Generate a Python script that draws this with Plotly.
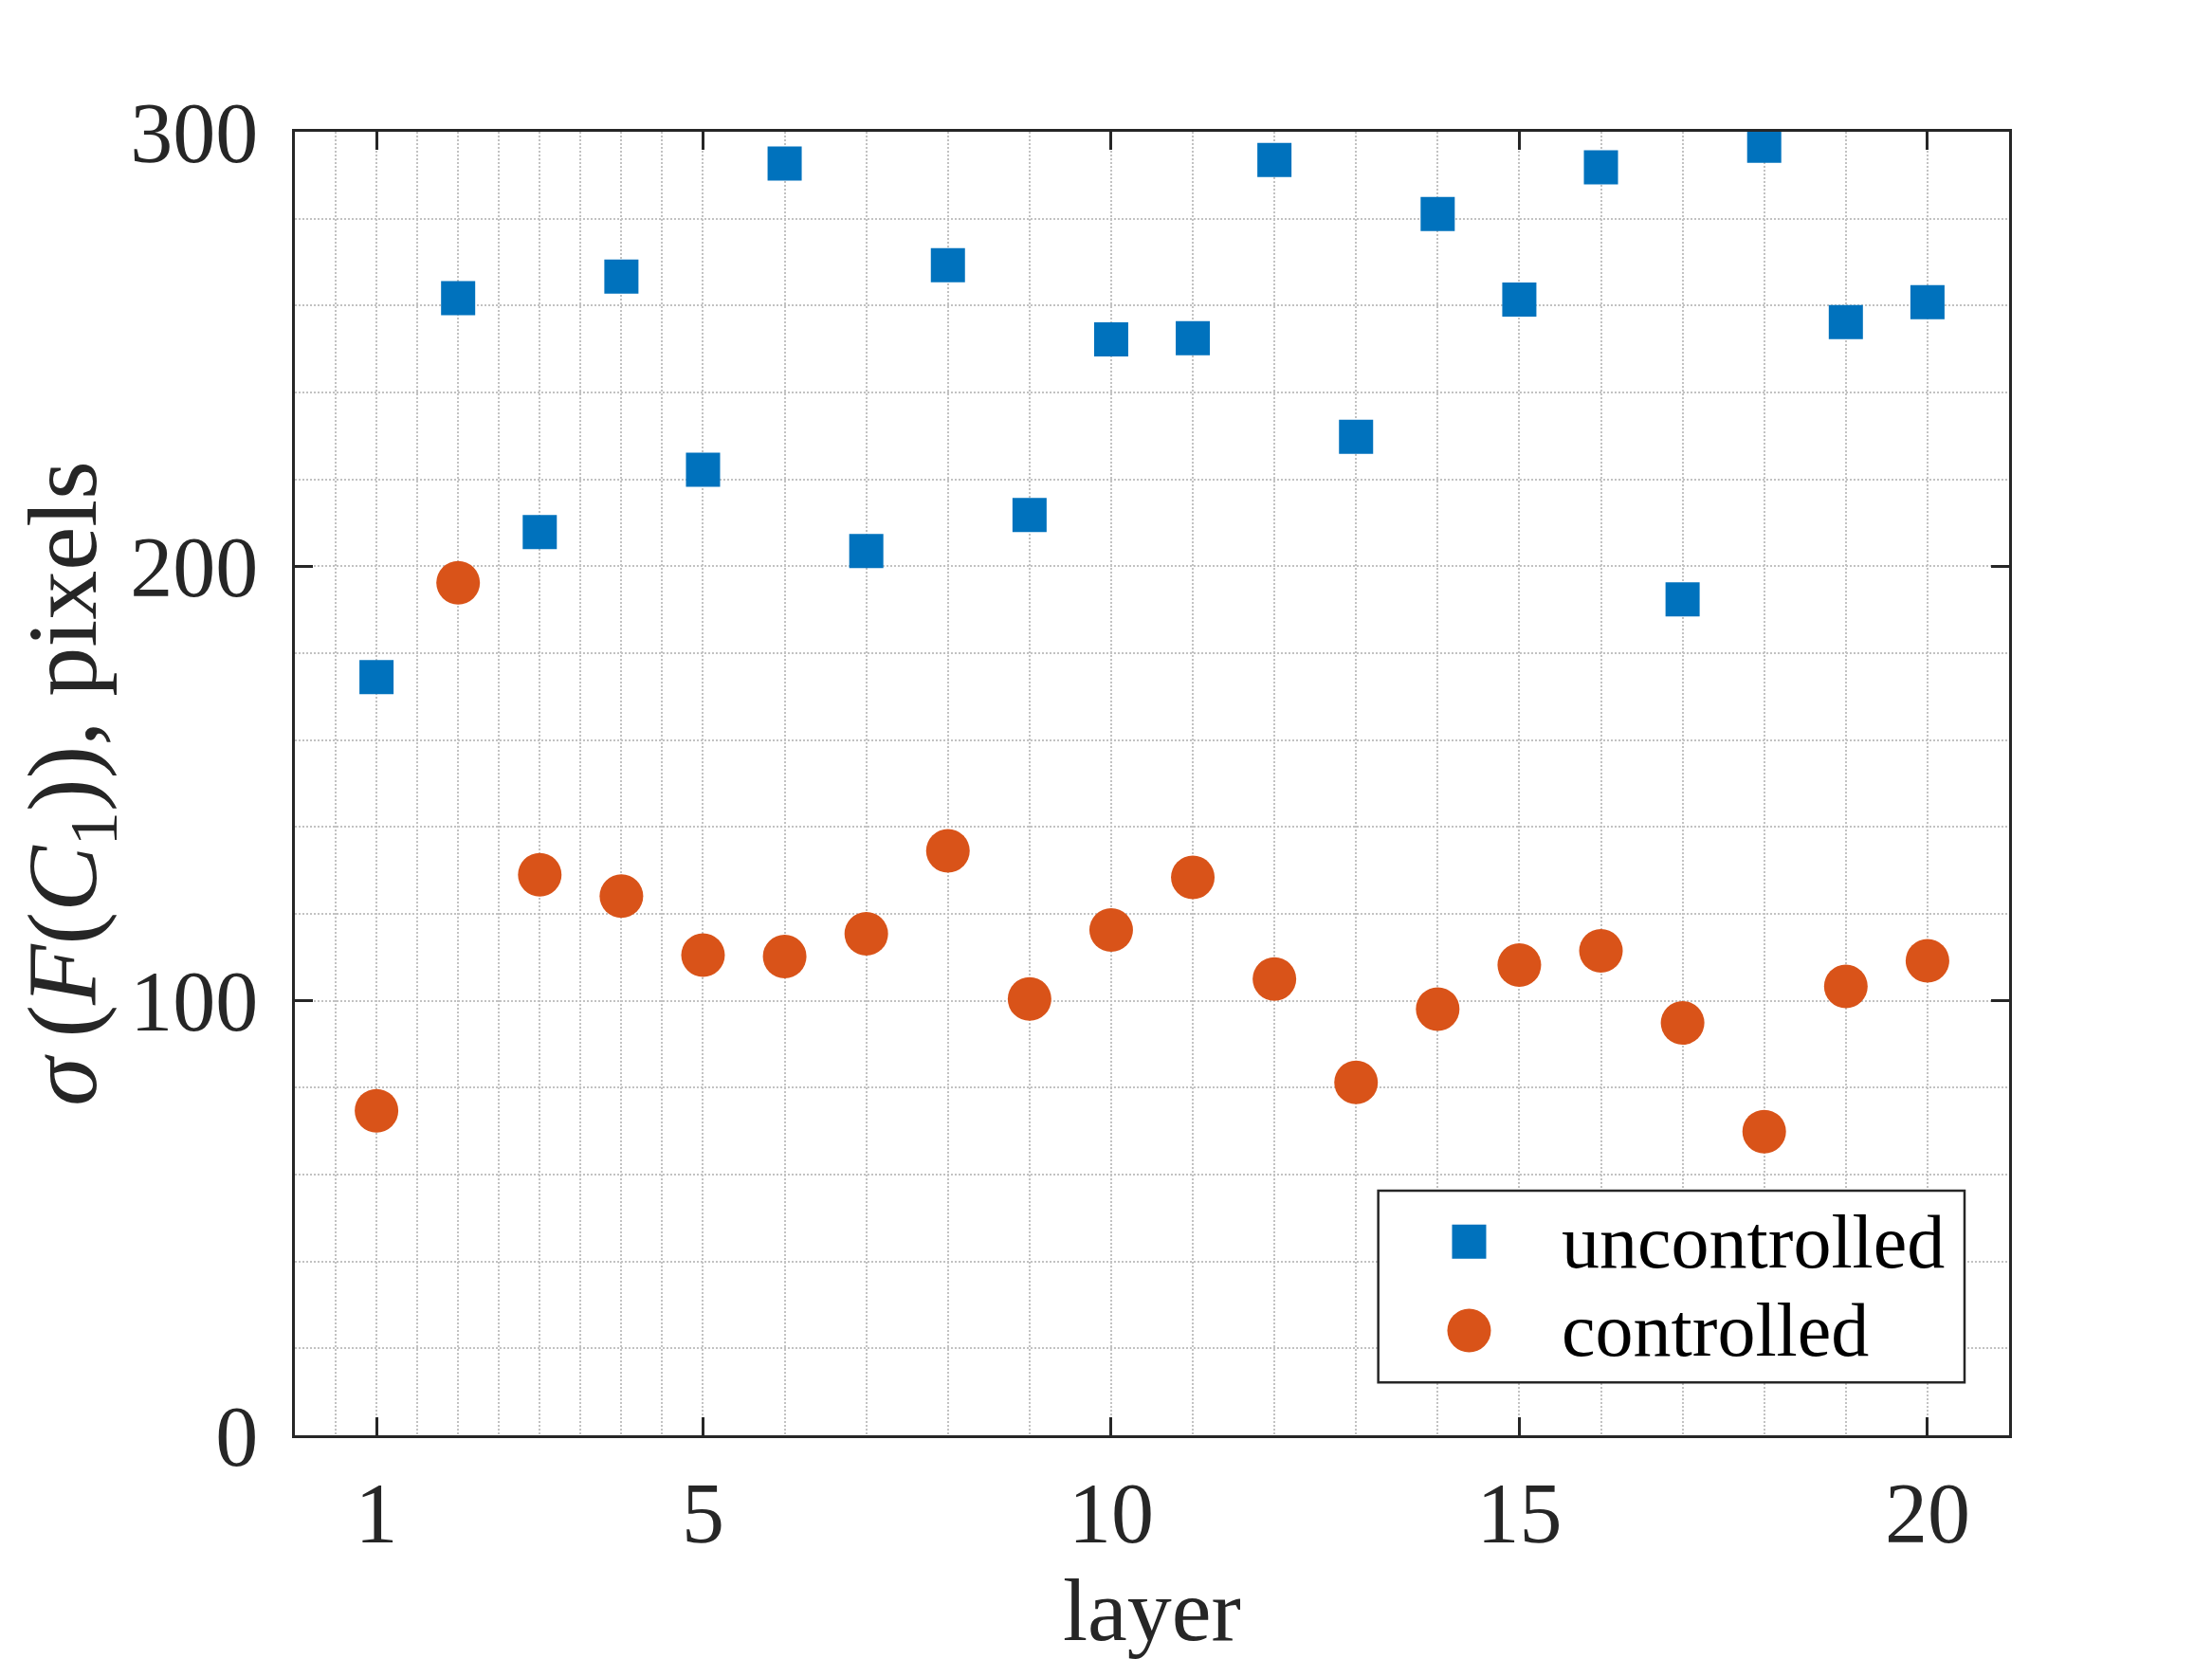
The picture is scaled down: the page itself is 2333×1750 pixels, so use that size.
import numpy as np
import plotly.graph_objects as go

# layer index and the two measured series
layers = list(range(1, 21))
uncontrolled = [174.5, 261.7, 207.9, 266.7, 222.2, 292.7, 203.5, 269.3, 211.8, 252.2,
                252.5, 293.5, 229.8, 281.1, 261.4, 291.8, 192.4, 296.8, 256.2, 260.8]
controlled = [74.7, 196.2, 129.0, 124.1, 110.5, 110.2, 115.4, 134.5, 100.4, 116.3,
              128.4, 105.0, 81.2, 98.1, 108.2, 111.5, 94.9, 69.9, 103.3, 109.2]

x_ticks = [1, 5, 10, 15, 20]
y_ticks = [0, 100, 200, 300]
series_names = ["uncontrolled", "controlled"]

BLUE = "#0072BD"
ORANGE = "#D95319"
AXIS = "#262626"
GRID = "#c2c2c2"
FONT = "Liberation Serif"

# MATLAB-style minor grid: halves up to 5, then every integer
x_minor = list(np.arange(0.5, 5.0, 0.5)) + [v for v in range(6, 22) if v not in x_ticks]

fig = go.Figure()
fig.add_trace(go.Scatter(
    x=layers, y=uncontrolled, mode="markers", name=series_names[0],
    marker=dict(symbol="square", size=36, color=BLUE, line=dict(width=0)),
))
fig.add_trace(go.Scatter(
    x=layers, y=controlled, mode="markers", name=series_names[1],
    marker=dict(symbol="circle", size=46, color=ORANGE, line=dict(width=0)),
))

grid_common = dict(gridcolor=GRID, gridwidth=2, griddash="2px,2px")

fig.update_xaxes(
    range=[0, 21], tickvals=x_ticks, ticks="inside", ticklen=19, tickwidth=2.5,
    tickcolor=AXIS, showline=True, linecolor=AXIS, linewidth=2.5, mirror="ticks",
    showgrid=True, zeroline=False, ticklabelstandoff=2, automargin=False,
    tickfont=dict(family=FONT, size=90, color=AXIS),
    minor=dict(tickvals=x_minor, showgrid=True, ticks="", **grid_common),
    **grid_common,
)
fig.update_yaxes(
    range=[0, 300], tickvals=y_ticks, ticks="inside", ticklen=19, tickwidth=2.5,
    tickcolor=AXIS, showline=True, linecolor=AXIS, linewidth=2.5, mirror="ticks",
    showgrid=True, zeroline=False, ticklabelstandoff=18, automargin=False,
    tickfont=dict(family=FONT, size=90, color=AXIS),
    title=dict(text="<i>σ</i>\u2009(<i>F</i>(<i>C</i><sub>1</sub>)), pixels",
               font=dict(family=FONT, size=104, color=AXIS), standoff=28),
    minor=dict(dtick=20, showgrid=True, ticks="", **grid_common),
    **grid_common,
)

# x-axis title placed as an annotation so it sits low like the original
annotations = [dict(xref="paper", yref="paper", x=0.5, y=-0.173, text="layer",
                    showarrow=False, xanchor="center", yanchor="bottom",
                    font=dict(family=FONT, size=94, color=AXIS))]

# legend drawn by hand so the symbols keep their plotted size
shapes = [dict(type="rect", xref="paper", yref="paper", x0=0.632, x1=0.974, y0=0.0406, y1=0.1877,
               fillcolor="white", line=dict(color=AXIS, width=2.5), layer="above")]
legend_rows = [(0.1486, "square", BLUE, 36), (0.0804, "circle", ORANGE, 46)]
for (ypos, sym, col, sz), name in zip(legend_rows, series_names):
    h = sz / 2
    shapes.append(dict(type="rect" if sym == "square" else "circle",
                       xref="paper", yref="paper", xsizemode="pixel", ysizemode="pixel",
                       xanchor=0.685, yanchor=ypos, x0=-h, x1=h, y0=-h, y1=h,
                       fillcolor=col, line=dict(width=0), layer="above"))
    annotations.append(dict(xref="paper", yref="paper", x=0.738, y=ypos, text=name,
                            showarrow=False, xanchor="left", yanchor="middle",
                            font=dict(family=FONT, size=80, color="black")))

fig.update_layout(
    width=2333, height=1750,
    margin=dict(l=303, r=222, t=131, b=244),
    plot_bgcolor="white", paper_bgcolor="white",
    showlegend=False, shapes=shapes, annotations=annotations,
)

fig.write_html("out.html")
